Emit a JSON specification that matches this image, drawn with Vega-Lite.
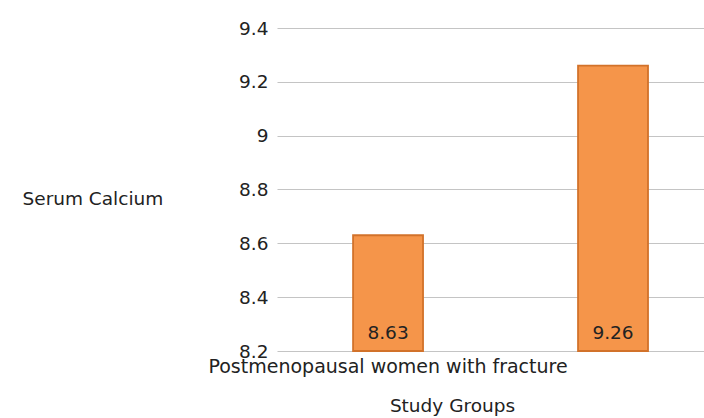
{
  "$schema": "https://vega.github.io/schema/vega-lite/v6.json",
  "autosize": {"type": "none"},
  "width": 427,
  "height": 323,
  "padding": {"left": 277, "top": 28, "right": 0, "bottom": 67},
  "background": "white",
  "config": {
    "view": {"stroke": null},
    "font": "DejaVu Sans"
  },
  "data": {
    "values": [
      {"group": "Postmenopausal women with fracture", "calcium": 8.63},
      {"group": "Postmenopausal women without fracture", "calcium": 9.26}
    ]
  },
  "encoding": {
    "x": {
      "field": "group",
      "type": "nominal",
      "sort": null,
      "scale": {"paddingInner": 0.689, "paddingOuter": 0.2935, "align": 0.576},
      "axis": {
        "title": "Study Groups",
        "titleFont": "DejaVu Sans",
        "titleFontSize": 18.5,
        "titleFontWeight": "normal",
        "titleColor": "#222222",
        "titlePadding": 20,
        "titleX": 175,
        "titleAnchor": null,
        "titleAlign": "center",
        "labelAngle": 0,
        "labelFont": "DejaVu Sans",
        "labelFontSize": 19,
        "labelColor": "#222222",
        "labelPadding": 6,
        "labelExpr": "datum.index == 0 ? datum.label : ''",
        "labelLimit": 0,
        "domain": false,
        "ticks": false,
        "grid": false
      }
    }
  },
  "layer": [
    {
      "mark": {"type": "bar", "fill": "#F5954A", "stroke": "#D2722A", "strokeWidth": 1.8},
      "encoding": {
        "y": {
          "field": "calcium",
          "type": "quantitative",
          "scale": {"domain": [8.2, 9.4], "zero": false, "nice": false},
          "axis": {
            "title": "Serum Calcium",
            "titleAngle": 0,
            "titleAlign": "left",
            "titleBaseline": "middle",
            "titleX": -255,
            "titleY": 170,
            "titleFont": "DejaVu Sans",
            "titleFontSize": 18.5,
            "titleFontWeight": "normal",
            "titleColor": "#222222",
            "values": [8.2, 8.4, 8.6, 8.8, 9, 9.2, 9.4],
            "format": "~g",
            "labelFont": "DejaVu Sans",
            "labelFontSize": 18.5,
            "labelColor": "#222222",
            "labelPadding": 9,
            "domain": false,
            "ticks": false,
            "grid": true,
            "gridColor": "#c4c4c4",
            "gridWidth": 1.2
          }
        },
        "y2": {"datum": 8.2}
      }
    },
    {
      "mark": {"type": "text", "baseline": "bottom", "dy": -8, "fontSize": 18.5, "font": "DejaVu Sans", "color": "#222222"},
      "encoding": {
        "y": {"datum": 8.2, "type": "quantitative"},
        "text": {"field": "calcium", "type": "quantitative", "format": ".2f"}
      }
    }
  ]
}
